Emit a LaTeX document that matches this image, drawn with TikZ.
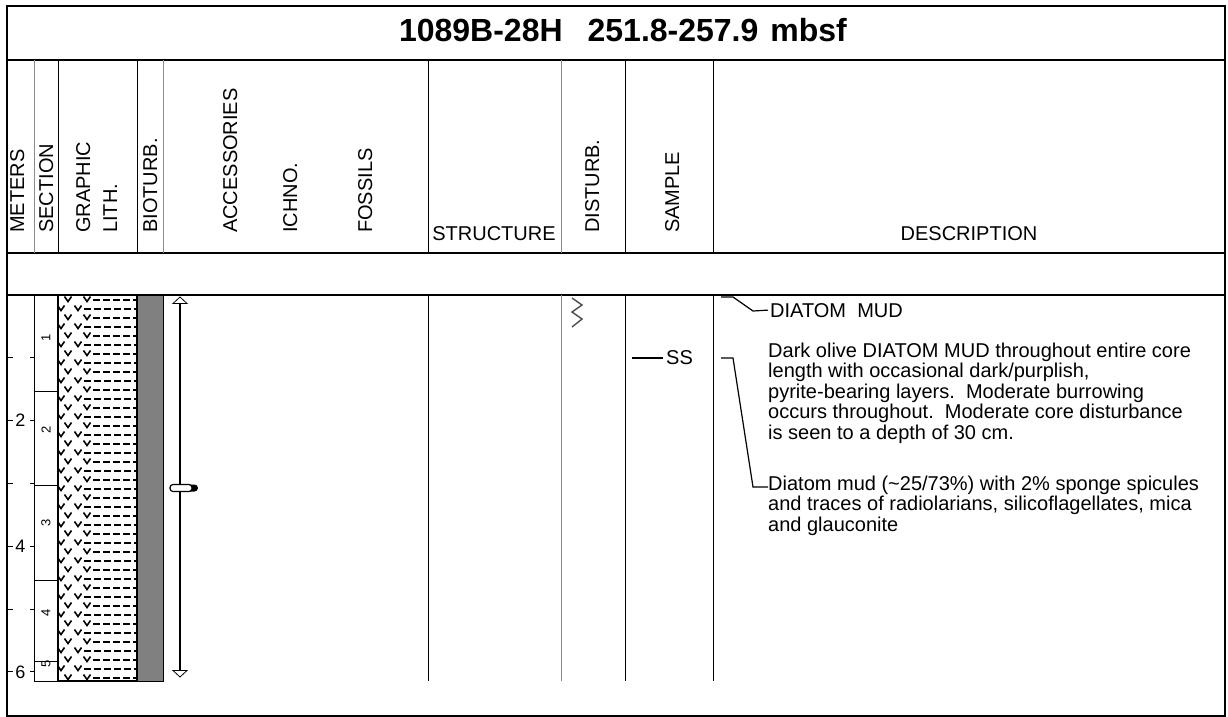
\documentclass[tikz,border=0pt]{standalone}
\usepackage{fontspec}
\setmainfont{Liberation Sans}

\begin{document}
\begin{tikzpicture}[x=1pt, y=-1pt,
	every node/.style={inner sep=0pt},
	lbl/.style={font=\fontsize{20}{20}\selectfont},
	vlbl/.style={lbl, rotate=90, anchor=base west},
	desc/.style={font=\fontsize{20}{20.5}\selectfont, align=left, anchor=north west},
	sep/.style={line width=1pt},
	gsep/.style={line width=1pt, black!45},
	rule/.style={line width=2.2pt},
	leader/.style={line width=1.2pt},
	vmark/.style={line width=1.6pt},
	mud/.style={line width=1.6pt, dash pattern=on 7pt off 3pt}]

	\useasboundingbox (0,0) rectangle (1228,717);

	% frame and rules
	\draw[line width=2.6pt] (7,6) rectangle (1225,716);
	\foreach \y in {60,253,295} {
		\draw[rule] (7,\y) -- (1225,\y);
	}
	\node[font=\fontsize{32}{32}\selectfont\bfseries, anchor=base] (title) at (623,42) {1089B-28H\hspace{25pt}251.8-257.9\hspace{12pt}mbsf};

	% column heads
	\foreach \x in {58,137,428,625,713} {
		\draw[sep] (\x,60) -- (\x,253);
	}
	\foreach \x in {34,163,561} {
		\draw[gsep] (\x,60) -- (\x,253);
	}
	\foreach \x/\name/\txt in {24/meters/METERS, 53/section/SECTION, 90/graphic/GRAPHIC, 117/lith/LITH., 157/bioturb/BIOTURB., 237/access/ACCESSORIES, 297/ichno/ICHNO., 372/fossils/FOSSILS, 599/disturb/DISTURB., 679/sample/SAMPLE} {
		\node[vlbl] (\name) at (\x,233) {\txt};
	}
	\node[lbl, anchor=base] (structure) at (494,240) {STRUCTURE};
	\node[lbl, anchor=base] (description) at (969,240) {DESCRIPTION};

	% column lines of the core
	\foreach \x in {428,625,713} {
		\draw[sep] (\x,295) -- (\x,681);
	}
	\draw[gsep] (561,295) -- (561,681);

	% meters
	\foreach \m in {1,...,6} {
		\draw[sep] (8,{295+\m*62.8}) -- (13,{295+\m*62.8});
		\draw[sep] (30,{295+\m*62.8}) -- (34,{295+\m*62.8});
	}
	\foreach \m in {2,4,6} {
		\node[font=\fontsize{18}{18}\selectfont] (m\m) at (20.5,{295+\m*62.8}) {\m};
	}

	% sections
	\foreach \a/\b/\n/\ny in {295/391/1/338, 391/485/2/430, 485/580/3/523, 580/661/4/613, 661/681/5/664} {
		\draw[sep] (34,\a) rectangle (58,\b);
		\node[rotate=90, font=\fontsize{13}{13}\selectfont] (sec\n) at (46,\ny) {\n};
	}

	% graphic lithology: diatom mud
	\begin{scope}
		\clip (58,295) rectangle (137,681);
		\foreach \i in {0,2,...,42} {
			\pgfmathsetmacro{\yy}{299+9*\i}
			\foreach \vx in {68,87} {
				\draw[vmark] (\vx-3.5,\yy-2.5) -- (\vx,\yy+2.5) -- (\vx+3.5,\yy-2.5);
			}
			\draw[mud] (93,\yy+1) -- (137,\yy+1);
		}
		\foreach \i in {1,3,...,43} {
			\pgfmathsetmacro{\yy}{299+9*\i}
			\foreach \vx in {61,78} {
				\draw[vmark] (\vx-3.5,\yy-2.5) -- (\vx,\yy+2.5) -- (\vx+3.5,\yy-2.5);
			}
			\draw[mud] (84,\yy+1) -- (137,\yy+1);
		}
	\end{scope}
	\draw[line width=2pt] (58,295) rectangle (137,681);
	\filldraw[fill=gray, draw=black, line width=1pt] (137,295) rectangle (163,681);

	% accessories
	\draw[line width=1.5pt] (180,303) -- (180,670);
	\draw[fill=white, line width=0.8pt] (180,297) -- (173,303.5) -- (187,303.5) -- cycle;
	\draw[fill=white, line width=0.8pt] (180,677) -- (173,670.5) -- (187,670.5) -- cycle;
	\fill[rounded corners=3.5pt] (186,484.5) rectangle (198,491.5);
	\draw[fill=white, line width=1.2pt, rounded corners=3pt] (170,484.5) rectangle (192,491.5);

	% disturbance
	\draw[line width=1.4pt, black!70] (572,298) -- (582,305) -- (572,312) -- (582,319) -- (572,327);

	% sample
	\coordinate (sstick) at (632,358);
	\node[lbl, anchor=west, inner xsep=3pt] (ss) at (663,358) {SS};
	\draw[leader] (sstick) -- (ss.west);

	% description
	\node[lbl, anchor=base west, inner xsep=2pt] (head) at (768,317) {DIATOM\ \ MUD};
	\node[desc] (para1) at (768,342.5) {Dark olive DIATOM MUD throughout entire core\\
		length with occasional dark/purplish,\\
		pyrite-bearing layers.\ \ Moderate burrowing\\
		occurs throughout.\ \ Moderate core disturbance\\
		is seen to a depth of 30 cm.};
	\node[desc] (para2) at (768,475.5) {Diatom mud (\textasciitilde25/73\%) with 2\% sponge spicules\\
		and traces of radiolarians, silicoflagellates, mica\\
		and glauconite};
	\coordinate (hd0) at (721,297);
	\coordinate (pd0) at (721,358);
	\draw[leader] (hd0) -- (733,297) -- (753,311) -- (head.west);
	\draw[leader] (pd0) -- (733,358) -- (753,487) -- ([yshift=-11.5pt]para2.north west);
\end{tikzpicture}
\end{document}
